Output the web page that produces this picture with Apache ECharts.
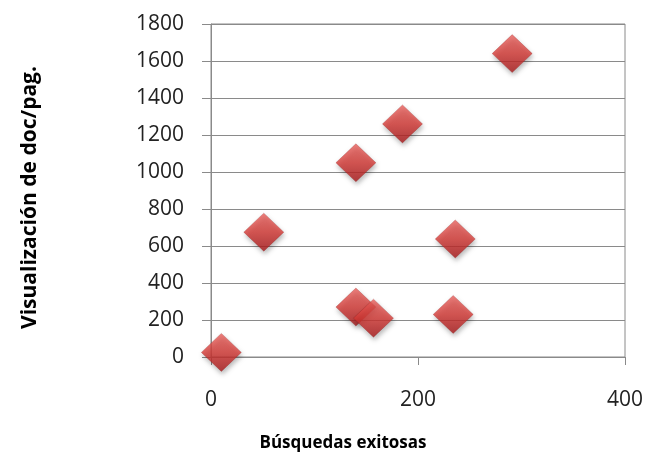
<!DOCTYPE html>
<html>
<head>
<meta charset="utf-8">
<script src="https://cdn.jsdelivr.net/npm/echarts@6/dist/echarts.min.js"></script>
<style>
  html, body { margin: 0; padding: 0; background: #fff; }
  #chart { width: 656px; height: 459px; }
</style>
</head>
<body>
<div id="chart"></div>
<script>
// búsquedas exitosas vs visualización de doc/pag.
var busquedas = [10, 51, 140, 185, 291, 236, 140, 157, 234];
var visualizaciones = [25, 675, 1050, 1260, 1640, 638, 270, 210, 230];
var xTicks = [0, 200, 400];
var yTicks = [0, 200, 400, 600, 800, 1000, 1200, 1400, 1600, 1800];

var points = busquedas.map(function (b, i) {
  return [b, visualizaciones[i]];
});

var chart = echarts.init(document.getElementById("chart"));
chart.setOption({
  animation: false,
  grid: {
    left: 211,
    right: 31,
    top: 24,
    bottom: 102,
    show: true,
    borderColor: "#8a8a8a",
    borderWidth: 1
  },
  xAxis: {
    type: "value",
    min: xTicks[0],
    max: xTicks[xTicks.length - 1],
    interval: 200,
    name: "Búsquedas exitosas",
    nameLocation: "middle",
    nameGap: 78,
    nameTextStyle: {
      fontFamily: "Open Sans",
      fontSize: 17,
      fontWeight: "bold",
      color: "#000",
      padding: [0, 150, 0, 0]
    },
    axisLine: { lineStyle: { color: "#8a8a8a" } },
    axisTick: { show: true, length: 8, lineStyle: { color: "#8a8a8a" } },
    axisLabel: {
      margin: 33,
      fontFamily: "Open Sans",
      fontSize: 21,
      color: "#222",
      formatter: function (v) { return String(v); }
    },
    splitLine: { show: false }
  },
  yAxis: {
    type: "value",
    min: yTicks[0],
    max: yTicks[yTicks.length - 1],
    interval: 200,
    name: "Visualización de doc/pag.",
    nameLocation: "middle",
    nameGap: 170,
    nameTextStyle: {
      fontFamily: "Open Sans",
      fontSize: 21,
      fontWeight: "bold",
      color: "#000",
      padding: [0, 14, 0, 0]
    },
    axisLine: { show: true, lineStyle: { color: "#8a8a8a" } },
    axisTick: { show: true, length: 9, lineStyle: { color: "#8a8a8a" } },
    axisLabel: {
      margin: 27,
      fontFamily: "Open Sans",
      fontSize: 21,
      color: "#222",
      formatter: function (v) { return String(v); }
    },
    splitLine: { show: true, lineStyle: { color: "#8a8a8a", width: 1 } }
  },
  series: [
    {
      type: "scatter",
      symbol: "diamond",
      symbolSize: [40, 38],
      data: points,
      itemStyle: {
        color: new echarts.graphic.LinearGradient(0, 0, 0, 1, [
          { offset: 0, color: "#e8605c" },
          { offset: 0.5, color: "#d63a36" },
          { offset: 1, color: "#a8181a" }
        ]),
        borderColor: "rgba(140,20,20,0.6)",
        borderWidth: 0.5,
        shadowBlur: 5,
        shadowColor: "rgba(0,0,0,0.35)",
        shadowOffsetX: 1,
        shadowOffsetY: 3
      }
    }
  ]
});
</script>
</body>
</html>
